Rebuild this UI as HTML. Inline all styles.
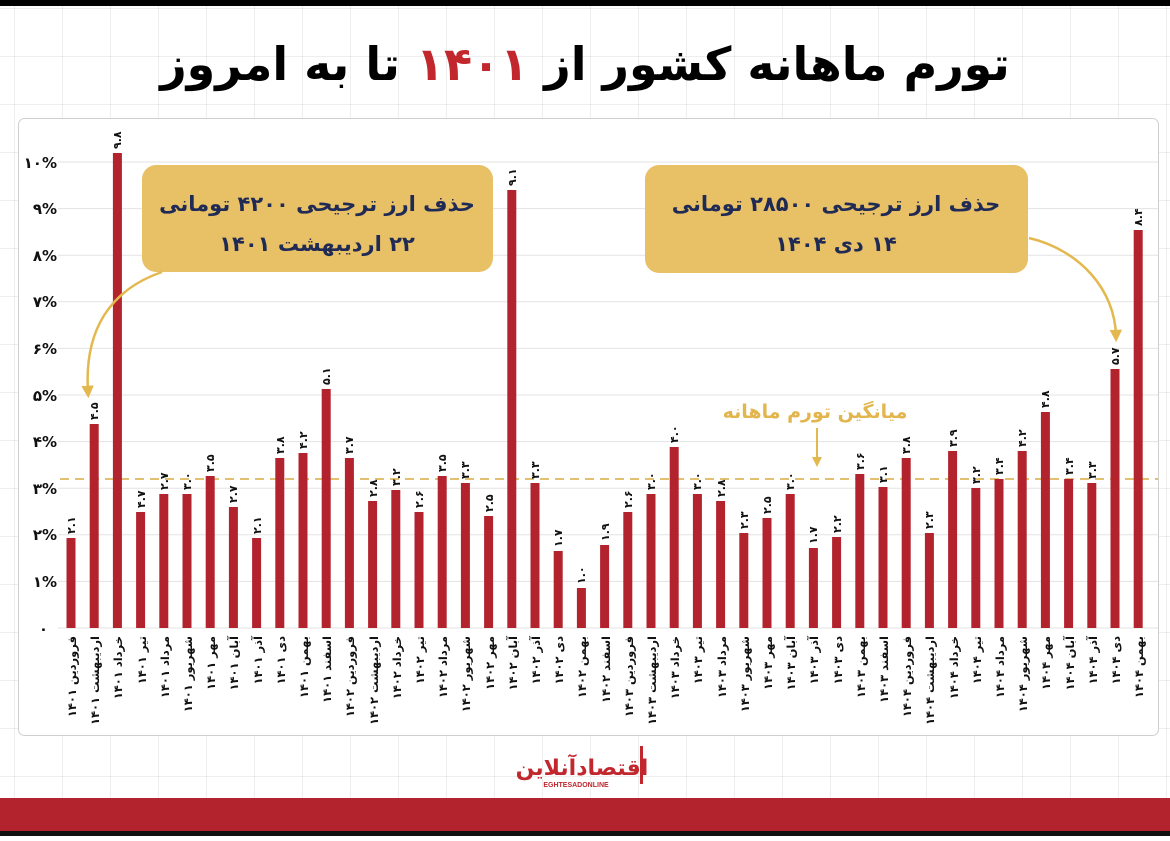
<!DOCTYPE html>
<html><head><meta charset="utf-8"><style>
html,body{margin:0;padding:0;}
body{width:1170px;height:836px;overflow:hidden;background:#fff;font-family:"Liberation Sans","Noto Sans CJK SC",sans-serif;}
</style></head><body>
<svg width="1170" height="836" viewBox="0 0 1170 836" xmlns="http://www.w3.org/2000/svg" font-family="'Liberation Sans','DejaVu Sans',sans-serif">
<defs>
<pattern id="grid" width="48" height="48" patternUnits="userSpaceOnUse" x="14" y="8">
<path d="M0 0H48M0 0V48" stroke="#dedede" stroke-width="1" fill="none"/>
</pattern>
<marker id="ah" viewBox="0 0 10 10" refX="5" refY="5" markerWidth="5" markerHeight="5" orient="auto"><path d="M0 0L10 5L0 10z" fill="#e3b94f"/></marker>
</defs>
<rect x="0" y="0" width="1170" height="836" fill="url(#grid)"/>
<rect x="0" y="0" width="1170" height="6" fill="#000"/>
<text x="585" y="80" text-anchor="middle" font-size="46" font-weight="bold" fill="#000" font-family="'DejaVu Sans',sans-serif" direction="rtl">تورم ماهانه کشور از <tspan fill="#c1272d">۱۴۰۱</tspan> تا به امروز</text>
<rect x="18.5" y="118.5" width="1140" height="617" rx="6" fill="#fff" stroke="#cfcfcf"/>
<g stroke="#e3e3e3" stroke-width="1">
<line x1="58" x2="1158" y1="628" y2="628"/><line x1="58" x2="1158" y1="581.4" y2="581.4"/><line x1="58" x2="1158" y1="534.8" y2="534.8"/><line x1="58" x2="1158" y1="488.2" y2="488.2"/><line x1="58" x2="1158" y1="441.6" y2="441.6"/><line x1="58" x2="1158" y1="395" y2="395"/><line x1="58" x2="1158" y1="348.4" y2="348.4"/><line x1="58" x2="1158" y1="301.8" y2="301.8"/><line x1="58" x2="1158" y1="255.2" y2="255.2"/><line x1="58" x2="1158" y1="208.6" y2="208.6"/><line x1="58" x2="1158" y1="162" y2="162"/>
</g>
<g font-size="15" font-weight="bold" fill="#111" text-anchor="end" font-family="'DejaVu Sans',sans-serif">
<text x="48" y="634">۰</text><text x="57" y="587">۱%</text><text x="57" y="540">۲%</text><text x="57" y="494">۳%</text><text x="57" y="447">۴%</text><text x="57" y="401">۵%</text><text x="57" y="354">۶%</text><text x="57" y="307">۷%</text><text x="57" y="261">۸%</text><text x="57" y="214">۹%</text><text x="57" y="168">۱۰%</text>
</g>
<line x1="60" x2="1158" y1="479" y2="479" stroke="#e2c071" stroke-width="2" stroke-dasharray="9,6"/>
<g fill="#b3232e">
<rect x="66.5" y="538" width="9" height="90"/><rect x="89.7" y="424" width="9" height="204"/><rect x="112.9" y="153" width="9" height="475"/><rect x="136.1" y="512" width="9" height="116"/><rect x="159.3" y="494" width="9" height="134"/><rect x="182.5" y="494" width="9" height="134"/><rect x="205.7" y="476" width="9" height="152"/><rect x="228.9" y="507" width="9" height="121"/><rect x="252.1" y="538" width="9" height="90"/><rect x="275.3" y="458" width="9" height="170"/><rect x="298.5" y="453" width="9" height="175"/><rect x="321.7" y="389" width="9" height="239"/><rect x="344.9" y="458" width="9" height="170"/><rect x="368.1" y="501" width="9" height="127"/><rect x="391.3" y="490" width="9" height="138"/><rect x="414.5" y="512" width="9" height="116"/><rect x="437.7" y="476" width="9" height="152"/><rect x="460.9" y="483" width="9" height="145"/><rect x="484.1" y="516" width="9" height="112"/><rect x="507.3" y="190" width="9" height="438"/><rect x="530.5" y="483" width="9" height="145"/><rect x="553.7" y="551" width="9" height="77"/><rect x="576.9" y="588" width="9" height="40"/><rect x="600.1" y="545" width="9" height="83"/><rect x="623.3" y="512" width="9" height="116"/><rect x="646.5" y="494" width="9" height="134"/><rect x="669.7" y="447" width="9" height="181"/><rect x="692.9" y="494" width="9" height="134"/><rect x="716.1" y="501" width="9" height="127"/><rect x="739.3" y="533" width="9" height="95"/><rect x="762.5" y="518" width="9" height="110"/><rect x="785.7" y="494" width="9" height="134"/><rect x="808.9" y="548" width="9" height="80"/><rect x="832.1" y="537" width="9" height="91"/><rect x="855.3" y="474" width="9" height="154"/><rect x="878.5" y="487" width="9" height="141"/><rect x="901.7" y="458" width="9" height="170"/><rect x="924.9" y="533" width="9" height="95"/><rect x="948.1" y="451" width="9" height="177"/><rect x="971.3" y="488" width="9" height="140"/><rect x="994.5" y="479" width="9" height="149"/><rect x="1017.7" y="451" width="9" height="177"/><rect x="1040.9" y="412" width="9" height="216"/><rect x="1064.1" y="479" width="9" height="149"/><rect x="1087.3" y="483" width="9" height="145"/><rect x="1110.5" y="369" width="9" height="259"/><rect x="1133.7" y="230" width="9" height="398"/>
</g>
<g font-size="11" font-weight="bold" fill="#111" font-family="'DejaVu Sans',sans-serif">
<text transform="translate(75,534) rotate(-90)">۲.۱</text><text transform="translate(98,420) rotate(-90)">۴.۵</text><text transform="translate(121,149) rotate(-90)">۹.۸</text><text transform="translate(145,508) rotate(-90)">۴.۷</text><text transform="translate(168,490) rotate(-90)">۲.۷</text><text transform="translate(191,490) rotate(-90)">۳.۰</text><text transform="translate(214,472) rotate(-90)">۳.۵</text><text transform="translate(237,503) rotate(-90)">۲.۷</text><text transform="translate(261,534) rotate(-90)">۲.۱</text><text transform="translate(284,454) rotate(-90)">۳.۸</text><text transform="translate(307,449) rotate(-90)">۴.۲</text><text transform="translate(330,385) rotate(-90)">۵.۱</text><text transform="translate(353,454) rotate(-90)">۳.۷</text><text transform="translate(377,497) rotate(-90)">۲.۸</text><text transform="translate(400,486) rotate(-90)">۳.۲</text><text transform="translate(423,508) rotate(-90)">۲.۶</text><text transform="translate(446,472) rotate(-90)">۳.۵</text><text transform="translate(469,479) rotate(-90)">۳.۳</text><text transform="translate(493,512) rotate(-90)">۲.۵</text><text transform="translate(516,186) rotate(-90)">۹.۱</text><text transform="translate(539,479) rotate(-90)">۳.۳</text><text transform="translate(562,547) rotate(-90)">۱.۷</text><text transform="translate(585,584) rotate(-90)">۱.۰</text><text transform="translate(609,541) rotate(-90)">۱.۹</text><text transform="translate(632,508) rotate(-90)">۲.۶</text><text transform="translate(655,490) rotate(-90)">۳.۰</text><text transform="translate(678,443) rotate(-90)">۴.۰</text><text transform="translate(701,490) rotate(-90)">۳.۰</text><text transform="translate(725,497) rotate(-90)">۲.۸</text><text transform="translate(748,529) rotate(-90)">۲.۳</text><text transform="translate(771,514) rotate(-90)">۲.۵</text><text transform="translate(794,490) rotate(-90)">۳.۰</text><text transform="translate(817,544) rotate(-90)">۱.۷</text><text transform="translate(841,533) rotate(-90)">۲.۲</text><text transform="translate(864,470) rotate(-90)">۳.۶</text><text transform="translate(887,483) rotate(-90)">۳.۱</text><text transform="translate(910,454) rotate(-90)">۳.۸</text><text transform="translate(933,529) rotate(-90)">۲.۳</text><text transform="translate(957,447) rotate(-90)">۳.۹</text><text transform="translate(980,484) rotate(-90)">۳.۲</text><text transform="translate(1003,475) rotate(-90)">۳.۴</text><text transform="translate(1026,447) rotate(-90)">۴.۲</text><text transform="translate(1049,408) rotate(-90)">۴.۸</text><text transform="translate(1073,475) rotate(-90)">۳.۴</text><text transform="translate(1096,479) rotate(-90)">۳.۳</text><text transform="translate(1119,365) rotate(-90)">۵.۷</text><text transform="translate(1142,226) rotate(-90)">۸.۴</text>
</g>
<g font-size="11.5" font-weight="bold" fill="#111" text-anchor="end" font-family="'DejaVu Sans',sans-serif">
<text transform="translate(76,636) rotate(-90)">فروردین ۱۴۰۱</text><text transform="translate(99,636) rotate(-90)">اردیبهشت ۱۴۰۱</text><text transform="translate(122,636) rotate(-90)">خرداد ۱۴۰۱</text><text transform="translate(146,636) rotate(-90)">تیر ۱۴۰۱</text><text transform="translate(169,636) rotate(-90)">مرداد ۱۴۰۱</text><text transform="translate(192,636) rotate(-90)">شهریور ۱۴۰۱</text><text transform="translate(215,636) rotate(-90)">مهر ۱۴۰۱</text><text transform="translate(238,636) rotate(-90)">آبان ۱۴۰۱</text><text transform="translate(262,636) rotate(-90)">آذر ۱۴۰۱</text><text transform="translate(285,636) rotate(-90)">دی ۱۴۰۱</text><text transform="translate(308,636) rotate(-90)">بهمن ۱۴۰۱</text><text transform="translate(331,636) rotate(-90)">اسفند ۱۴۰۱</text><text transform="translate(354,636) rotate(-90)">فروردین ۱۴۰۲</text><text transform="translate(378,636) rotate(-90)">اردیبهشت ۱۴۰۲</text><text transform="translate(401,636) rotate(-90)">خرداد ۱۴۰۲</text><text transform="translate(424,636) rotate(-90)">تیر ۱۴۰۲</text><text transform="translate(447,636) rotate(-90)">مرداد ۱۴۰۲</text><text transform="translate(470,636) rotate(-90)">شهریور ۱۴۰۲</text><text transform="translate(494,636) rotate(-90)">مهر ۱۴۰۲</text><text transform="translate(517,636) rotate(-90)">آبان ۱۴۰۲</text><text transform="translate(540,636) rotate(-90)">آذر ۱۴۰۲</text><text transform="translate(563,636) rotate(-90)">دی ۱۴۰۲</text><text transform="translate(586,636) rotate(-90)">بهمن ۱۴۰۲</text><text transform="translate(610,636) rotate(-90)">اسفند ۱۴۰۲</text><text transform="translate(633,636) rotate(-90)">فروردین ۱۴۰۳</text><text transform="translate(656,636) rotate(-90)">اردیبهشت ۱۴۰۳</text><text transform="translate(679,636) rotate(-90)">خرداد ۱۴۰۳</text><text transform="translate(702,636) rotate(-90)">تیر ۱۴۰۳</text><text transform="translate(726,636) rotate(-90)">مرداد ۱۴۰۳</text><text transform="translate(749,636) rotate(-90)">شهریور ۱۴۰۳</text><text transform="translate(772,636) rotate(-90)">مهر ۱۴۰۳</text><text transform="translate(795,636) rotate(-90)">آبان ۱۴۰۳</text><text transform="translate(818,636) rotate(-90)">آذر ۱۴۰۳</text><text transform="translate(842,636) rotate(-90)">دی ۱۴۰۳</text><text transform="translate(865,636) rotate(-90)">بهمن ۱۴۰۳</text><text transform="translate(888,636) rotate(-90)">اسفند ۱۴۰۳</text><text transform="translate(911,636) rotate(-90)">فروردین ۱۴۰۴</text><text transform="translate(934,636) rotate(-90)">اردیبهشت ۱۴۰۴</text><text transform="translate(958,636) rotate(-90)">خرداد ۱۴۰۴</text><text transform="translate(981,636) rotate(-90)">تیر ۱۴۰۴</text><text transform="translate(1004,636) rotate(-90)">مرداد ۱۴۰۴</text><text transform="translate(1027,636) rotate(-90)">شهریور ۱۴۰۴</text><text transform="translate(1050,636) rotate(-90)">مهر ۱۴۰۴</text><text transform="translate(1074,636) rotate(-90)">آبان ۱۴۰۴</text><text transform="translate(1097,636) rotate(-90)">آذر ۱۴۰۴</text><text transform="translate(1120,636) rotate(-90)">دی ۱۴۰۴</text><text transform="translate(1143,636) rotate(-90)">بهمن ۱۴۰۴</text>
</g>
<rect x="142" y="165" width="351" height="107" rx="14" fill="#e8c066"/>
<rect x="645" y="165" width="383" height="108" rx="14" fill="#e8c066"/>
<g font-size="21" font-weight="bold" fill="#1f2a55" text-anchor="middle" font-family="'DejaVu Sans',sans-serif" direction="rtl">
<text x="317" y="211">حذف ارز ترجیحی ۴۲۰۰ تومانی</text>
<text x="317" y="251">۲۲ اردیبهشت ۱۴۰۱</text>
<text x="836" y="211">حذف ارز ترجیحی ۲۸۵۰۰ تومانی</text>
<text x="836" y="251">۱۴ دی ۱۴۰۴</text>
</g>
<path d="M162 272 C110 290 84 330 88 392" stroke="#e3b94f" stroke-width="2.5" fill="none" marker-end="url(#ah)"/>
<path d="M1029 238 C1080 250 1115 290 1116 336" stroke="#e3b94f" stroke-width="2.5" fill="none" marker-end="url(#ah)"/>
<text x="815" y="418" text-anchor="middle" font-size="19" font-weight="bold" fill="#e2b64d" font-family="'DejaVu Sans',sans-serif" direction="rtl">میانگین تورم ماهانه</text>
<line x1="817" y1="428" x2="817" y2="462" stroke="#e3b94f" stroke-width="2" marker-end="url(#ah)"/>
<text x="582" y="775" text-anchor="middle" font-size="22" font-weight="bold" fill="#c1272d" font-family="'DejaVu Sans',sans-serif" direction="rtl">اقتصادآنلاین</text>
<text x="576" y="787" text-anchor="middle" font-size="7" font-weight="bold" fill="#c1272d">EGHTESADONLINE</text>
<rect x="640" y="746" width="3" height="38" fill="#c1272d"/>
<rect x="0" y="798" width="1170" height="33" fill="#b3232e"/>
<rect x="0" y="831" width="1170" height="5" fill="#111"/>
</svg>
</body></html>
